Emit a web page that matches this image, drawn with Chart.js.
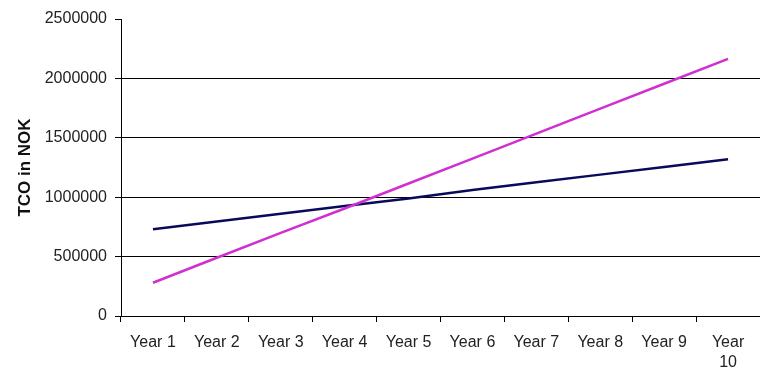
<!DOCTYPE html>
<html>
<head>
<meta charset="utf-8">
<script src="https://cdn.jsdelivr.net/npm/chart.js@4/dist/chart.umd.min.js"></script>
<style>
  html, body { margin: 0; padding: 0; background: #fff; }
  #wrap { width: 760px; height: 371px; }
</style>
</head>
<body>
<div id="wrap"><canvas id="tco" width="760" height="371"></canvas></div>
<script>
// values
const years = ['Year 1', 'Year 2', 'Year 3', 'Year 4', 'Year 5',
  'Year 6', 'Year 7', 'Year 8', 'Year 9', 'Year 10'];
const navyTco = [730000, 795000, 860000, 925000, 990000,
  1060000, 1125000, 1190000, 1255000, 1320000];
const magentaTco = [280000, 490000, 700000, 905000, 1115000,
  1325000, 1535000, 1745000, 1955000, 2165000];
const yTicks = [0, 500000, 1000000, 1500000, 2000000, 2500000];

const ink = '#000';
const labelFont = { family: 'Arial, "Liberation Sans", sans-serif', size: 16, lineHeight: 1.25 };

const ctx = document.getElementById('tco').getContext('2d');
new Chart(ctx, {
  type: 'line',
  data: {
    labels: years,
    datasets: [
      {
        label: 'Series 1',
        data: navyTco,
        borderColor: '#0a0a5c',
        borderWidth: 2.5,
        pointRadius: 0,
        tension: 0,
        order: 2
      },
      {
        label: 'Series 2',
        data: magentaTco,
        borderColor: '#d030d0',
        borderWidth: 2.5,
        pointRadius: 0,
        tension: 0,
        order: 1
      }
    ]
  },
  options: {
    responsive: false,
    animation: false,
    layout: { padding: { top: 19, right: 0, left: 0, bottom: 0 } },
    plugins: { legend: { display: false }, tooltip: { enabled: false } },
    scales: {
      x: {
        offset: true,
        grid: {
          offset: true,
          drawOnChartArea: false,
          drawTicks: true,
          tickLength: 6,
          tickColor: ink,
          lineWidth: 1
        },
        border: { color: ink, width: 1 },
        ticks: {
          autoSkip: false,
          maxRotation: 0,
          minRotation: 0,
          padding: 11,
          color: '#222',
          font: labelFont,
          callback: function (v) {
            const s = this.getLabelForValue(v);
            return s.length > 6 ? s.split(' ') : s;
          }
        },
        afterFit: (scale) => { scale.height = 55; }
      },
      y: {
        min: 0,
        max: 2500000,
        afterBuildTicks: (scale) => { scale.ticks = yTicks.map(v => ({ value: v })); },
        grid: {
          color: (c) => (c.tick && c.tick.value === 2500000) ? 'rgba(0,0,0,0)' : ink,
          tickColor: ink,
          tickLength: 6,
          lineWidth: 1
        },
        border: { color: ink, width: 1 },
        ticks: {
          padding: 8,
          color: '#222',
          font: { family: 'Arial, "Liberation Sans", sans-serif', size: 16 },
          callback: (v) => String(v)
        },
        title: {
          display: true,
          text: 'TCO in NOK',
          color: '#111',
          font: { family: 'Arial, "Liberation Sans", sans-serif', size: 17, weight: 'bold' },
          padding: { top: 15, bottom: 0 }
        },
        afterFit: (scale) => { scale.width = 121; }
      }
    }
  }
});
</script>
</body>
</html>
